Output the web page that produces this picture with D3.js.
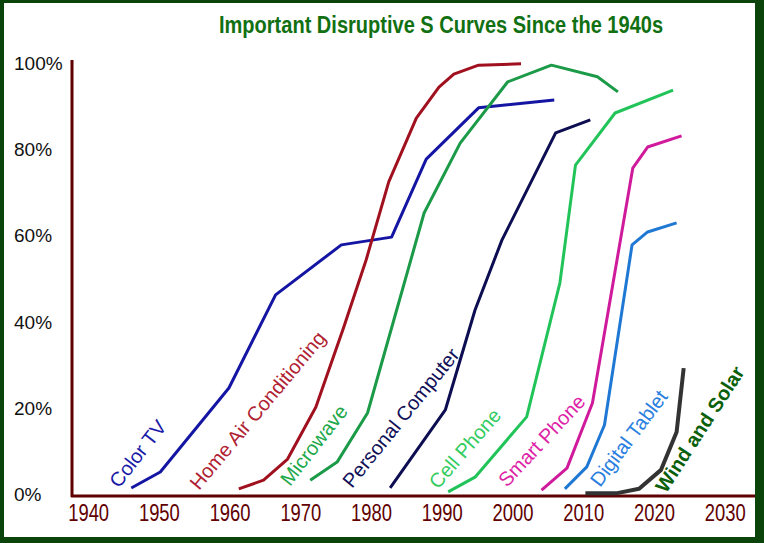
<!DOCTYPE html>
<html>
<head>
<meta charset="utf-8">
<script src="https://cdn.jsdelivr.net/npm/d3@7"></script>
<style>
  html, body { margin: 0; padding: 0; background: #ffffff; }
  svg { display: block; }
</style>
</head>
<body>
<svg id="chart" width="764" height="543"></svg>
<script>
// ---------- data ----------
const title = "Important Disruptive S Curves Since the 1940s";
const xTicks = [1940, 1950, 1960, 1970, 1980, 1990, 2000, 2010, 2020, 2030];
const yTicks = [0, 20, 40, 60, 80, 100];

const seriesNames = ["Color TV", "Home Air Conditioning", "Microwave", "Personal Computer",
  "Cell Phone", "Smart Phone", "Digital Tablet", "Wind and Solar"];

const colorTV = [[1946.1,1.4],[1950.2,5.1],[1959.9,24.6],[1966.5,46.2],[1975.8,57.8],[1982.9,59.6],[1987.8,77.7],[1995.2,89.6],[2005.9,91.4]];
const homeAC = [[1961.3,1.2],[1964.8,3.2],[1968.2,8.1],[1972.2,20.2],[1976.1,38.5],[1979.3,54.3],[1982.5,72.4],[1986.4,87.2],[1989.6,94.4],[1991.7,97.4],[1995.2,99.5],[2001.2,99.8]];
const microwave = [[1971.4,3.2],[1975.2,7.4],[1979.5,18.8],[1987.5,65.2],[1992.6,81.4],[1999.3,95.6],[2005.5,99.5],[2012.0,96.8],[2014.9,93.3]];
const personalComputer = [[1982.7,1.4],[1990.5,19.5],[1994.7,42.7],[1998.5,58.9],[2006.1,83.8],[2011.0,86.8]];
const cellPhone = [[1990.9,0.5],[1994.7,3.9],[2002.0,17.9],[2006.7,49.0],[2008.9,76.3],[2014.5,88.4],[2022.7,93.7]];
const smartPhone = [[2004.1,0.9],[2007.7,6.0],[2011.3,21.1],[2017.0,75.6],[2019.1,80.5],[2023.9,83.1]];
const digitalTablet = [[2007.4,1.2],[2010.5,6.3],[2013.0,16.0],[2016.9,57.8],[2019.1,60.8],[2023.2,62.9]];
const windSolar = [[2010.3,0.2],[2014.8,0.2],[2017.9,1.2],[2021.0,5.6],[2023.2,14.4],[2024.2,29.2]];

const seriesValues = [colorTV, homeAC, microwave, personalComputer, cellPhone, smartPhone, digitalTablet, windSolar];

// ---------- styles ----------
const lineColors = ["#1515a3", "#a0101f", "#1b9a48", "#0d0d52", "#22c45a", "#d01a9c", "#1f78d3", "#333333"];
const labelColors = ["#1a1aa8", "#b02232", "#21a84a", "#101058", "#33cc60", "#dd22a6", "#2a80e0", "#0b600b"];
const labelPos = [[119,489],[199,491],[290,487],[352,489],[438,490],[507,488],[600,488],[666,494]];
const labelAngle = [-52,-50,-52,-51,-49,-47,-53,-57];

const svg = d3.select("#chart");

// frame
svg.append("rect").attr("x",0).attr("y",0).attr("width",764).attr("height",543).attr("fill","#0a440a");
svg.append("rect").attr("x",4).attr("y",3).attr("width",751).attr("height",534).attr("fill","#ffffff");

const x = d3.scaleLinear().domain([1938, 2034]).range([74, 753]);
const y = d3.scaleLinear().domain([0, 100]).range([494, 63]);

// title (condensed bold look)
svg.append("text")
  .attr("transform", "translate(441,33) scale(0.835,1)")
  .attr("text-anchor", "middle")
  .attr("font-family", "'Liberation Sans', Arial, sans-serif")
  .attr("font-weight", "bold")
  .attr("font-size", 24)
  .attr("fill", "#117011")
  .text(title);

// y labels
svg.append("g").selectAll("text").data(yTicks).join("text")
  .attr("x", 14)
  .attr("y", d => y(d) + 7)
  .attr("font-family", "'Liberation Sans', Arial, sans-serif")
  .attr("font-size", 19)
  .attr("fill", "#111111")
  .text(d => d + "%");

// x axis labels
const xAxis = d3.axisBottom(x).tickValues(xTicks).tickFormat(d3.format("d")).tickSize(0).tickPadding(0);
const gx = svg.append("g").attr("transform", "translate(0,505)").call(xAxis);
gx.select(".domain").remove();
gx.selectAll("text")
  .attr("dy", null)
  .attr("y", 16)
  .attr("transform", "scale(0.8,1)")
  .attr("font-family", "'Liberation Sans', Arial, sans-serif")
  .attr("font-size", 23)
  .attr("fill", "#600000");

// axis lines
svg.append("line").attr("x1", 72).attr("x2", 72).attr("y1", 60).attr("y2", 497)
  .attr("stroke", "#600000").attr("stroke-width", 3);
svg.append("line").attr("x1", 71).attr("x2", 755).attr("y1", 496).attr("y2", 496)
  .attr("stroke", "#600000").attr("stroke-width", 3);

// lines
const line = d3.line().x(d => x(d[0])).y(d => y(d[1]));
svg.append("g").selectAll("path").data(seriesValues).join("path")
  .attr("d", line)
  .attr("fill", "none")
  .attr("stroke", (d, i) => lineColors[i])
  .attr("stroke-width", (d, i) => i === 7 ? 4 : 3)
  .attr("stroke-linejoin", "round")
  .attr("stroke-linecap", "butt");

// labels
svg.append("g").selectAll("text").data(seriesNames).join("text")
  .attr("transform", (d, i) => `translate(${labelPos[i][0]},${labelPos[i][1]}) rotate(${labelAngle[i]})`)
  .attr("font-family", "'Liberation Sans', Arial, sans-serif")
  .attr("font-size", 20)
  .attr("font-weight", (d, i) => i === 7 ? "bold" : "normal")
  .attr("fill", (d, i) => labelColors[i])
  .text(d => d);
</script>
</body>
</html>
